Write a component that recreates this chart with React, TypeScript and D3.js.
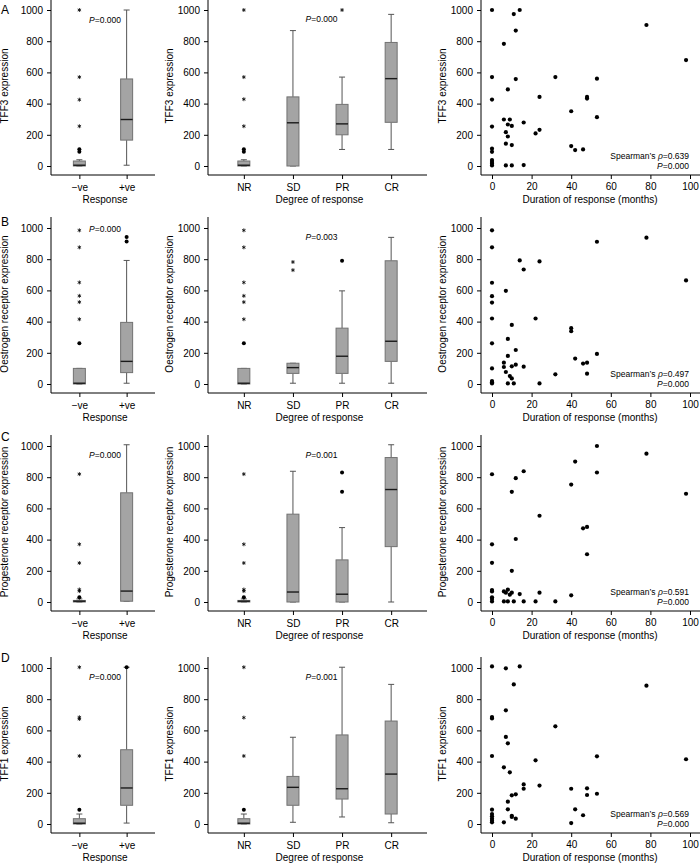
import React, { useRef, useEffect } from 'react';
import * as d3 from 'd3';

const responseCats = ['−ve', '+ve'];
const degreeCats = ['NR', 'SD', 'PR', 'CR'];
const yTicks = [0, 200, 400, 600, 800, 1000];
const monthTicks = [0, 20, 40, 60, 80, 100];

// box stats: whisker lo, q1, median, q3, whisker hi, outliers (dots) and extremes (stars)
const tff3ByResponse = [
  { lo: 0, q1: 0, med: 5, q3: 32, hi: 40, dots: [92, 108], stars: [1000, 570, 425, 255] },
  { lo: 5, q1: 166, med: 298, q3: 558, hi: 1000, dots: [], stars: [] },
];
const tff3ByDegree = [
  { lo: 0, q1: 0, med: 5, q3: 32, hi: 40, dots: [92, 108], stars: [1000, 570, 428, 255] },
  { lo: 0, q1: 0, med: 277, q3: 443, hi: 868, dots: [], stars: [] },
  { lo: 106, q1: 200, med: 270, q3: 395, hi: 570, dots: [], stars: [1000] },
  { lo: 106, q1: 280, med: 560, q3: 792, hi: 972, dots: [], stars: [] },
];
const erByResponse = [
  { lo: 0, q1: 0, med: 5, q3: 100, hi: 100, dots: [262], stars: [985, 876, 651, 565, 525, 415] },
  { lo: 5, q1: 73, med: 145, q3: 395, hi: 792, dots: [942, 914], stars: [] },
];
const erByDegree = [
  { lo: 0, q1: 0, med: 5, q3: 100, hi: 100, dots: [262], stars: [985, 876, 651, 565, 525, 415] },
  { lo: 5, q1: 68, med: 105, q3: 133, hi: 133, dots: [], stars: [782, 730] },
  { lo: 5, q1: 68, med: 178, q3: 358, hi: 597, dots: [790], stars: [] },
  { lo: 5, q1: 145, med: 274, q3: 790, hi: 940, dots: [], stars: [] },
];
const prByResponse = [
  { lo: 0, q1: 0, med: 5, q3: 10, hi: 20, dots: [30], stars: [820, 370, 250, 80, 70] },
  { lo: 5, q1: 5, med: 70, q3: 700, hi: 1008, dots: [], stars: [] },
];
const prByDegree = [
  { lo: 0, q1: 0, med: 5, q3: 10, hi: 20, dots: [30], stars: [820, 370, 250, 80, 70] },
  { lo: 0, q1: 0, med: 64, q3: 563, hi: 838, dots: [], stars: [] },
  { lo: 0, q1: 0, med: 50, q3: 270, hi: 477, dots: [830, 706], stars: [] },
  { lo: 0, q1: 355, med: 721, q3: 926, hi: 1008, dots: [], stars: [] },
];
const tff1ByResponse = [
  { lo: 0, q1: 0, med: 5, q3: 34, hi: 64, dots: [92], stars: [1005, 684, 673, 436] },
  { lo: 6, q1: 120, med: 231, q3: 476, hi: 1005, dots: [1005], stars: [] },
];
const tff1ByDegree = [
  { lo: 0, q1: 0, med: 5, q3: 34, hi: 64, dots: [92], stars: [1005, 682, 436] },
  { lo: 11, q1: 120, med: 235, q3: 305, hi: 556, dots: [], stars: [] },
  { lo: 45, q1: 160, med: 226, q3: 571, hi: 1005, dots: [], stars: [] },
  { lo: 8, q1: 64, med: 320, q3: 660, hi: 895, dots: [], stars: [] },
];

// [months, expression]
const tff3Scatter = [
  [0, 1000], [11, 974], [14, 1000], [12, 868], [6, 783], [0, 570], [12, 557], [32, 570], [8, 491],
  [0, 426], [24, 443], [48, 443], [48, 432], [53, 560], [78, 904], [98, 679], [40, 351], [53, 313],
  [0, 253], [6, 298], [9, 298], [8, 266], [10, 257], [16, 279], [7, 217], [8, 189], [22, 209],
  [24, 232], [7, 143], [10, 134], [40, 128], [42, 102], [46, 106], [0, 111], [0, 91], [0, 38],
  [0, 26], [0, 15], [0, 4], [7, 4], [10, 4], [16, 6],
];
const erScatter = [
  [0, 985], [0, 876], [53, 912], [78, 938], [14, 792], [24, 786], [16, 734], [98, 664], [0, 649],
  [7, 597], [0, 563], [0, 522], [0, 420], [22, 420], [10, 379], [40, 358], [40, 338], [0, 261],
  [8, 289], [12, 218], [8, 180], [42, 163], [53, 193], [46, 131], [48, 137], [48, 66], [32, 62],
  [6, 137], [6, 109], [10, 113], [12, 124], [16, 111], [0, 100], [7, 77], [9, 51], [10, 36],
  [0, 19], [0, 11], [0, 4], [8, 4], [11, 4], [24, 4],
];
const prScatter = [
  [53, 1000], [78, 951], [42, 900], [0, 819], [16, 838], [12, 794], [53, 830], [40, 753], [10, 706],
  [98, 694], [24, 553], [46, 472], [48, 481], [12, 404], [0, 370], [48, 306], [0, 251], [10, 200],
  [0, 77], [0, 68], [0, 30], [0, 19], [0, 4], [6, 68], [7, 60], [8, 79], [9, 47], [10, 60],
  [14, 51], [24, 60], [40, 43], [6, 4], [8, 4], [11, 4], [16, 4], [22, 4], [32, 4],
];
const tff1Scatter = [
  [0, 1010], [7, 998], [14, 1010], [11, 895], [78, 887], [7, 729], [0, 686], [0, 677], [32, 626],
  [7, 558], [8, 517], [0, 436], [53, 434], [98, 415], [22, 408], [6, 363], [9, 331], [16, 254],
  [16, 226], [24, 246], [40, 226], [48, 229], [48, 186], [53, 194], [10, 184], [12, 190], [8, 143],
  [8, 94], [42, 94], [46, 56], [10, 53], [10, 45], [12, 34], [6, 11], [40, 6], [0, 92], [0, 64],
  [0, 49], [0, 34], [0, 21], [0, 11],
];

const panels = [
  { letter: 'A', title: 'TFF3 expression', byResponse: tff3ByResponse, byDegree: tff3ByDegree, scatter: tff3Scatter, pResponse: '0.000', pDegree: '0.000', rho: '0.639', pRho: '0.000', pResponseAt: 936, pDegreeAt: 940 },
  { letter: 'B', title: 'Oestrogen receptor expression', byResponse: erByResponse, byDegree: erByDegree, scatter: erScatter, pResponse: '0.000', pDegree: '0.003', rho: '0.497', pRho: '0.000', pResponseAt: 994, pDegreeAt: 944 },
  { letter: 'C', title: 'Progesterone receptor expression', byResponse: prByResponse, byDegree: prByDegree, scatter: prScatter, pResponse: '0.000', pDegree: '0.001', rho: '0.591', pRho: '0.000', pResponseAt: 944, pDegreeAt: 944 },
  { letter: 'D', title: 'TFF1 expression', byResponse: tff1ByResponse, byDegree: tff1ByDegree, scatter: tff1Scatter, pResponse: '0.000', pDegree: '0.001', rho: '0.569', pRho: '0.000', pResponseAt: 942, pDegreeAt: 942 },
];

const rowTops = [10, 228, 446, 668];
const letterYs = [14, 226, 441, 662];
const font = "'Liberation Sans', Arial, Helvetica, sans-serif";

// little asterisk drawn as a path (extreme values)
const starPath = (r) => {
  let d = '';
  for (let k = 0; k < 3; k++) {
    const a = (Math.PI / 3) * k + Math.PI / 2;
    const dx = Math.cos(a) * r;
    const dy = Math.sin(a) * r;
    d += `M${-dx},${-dy}L${dx},${dy}`;
  }
  return d;
};

const drawBoxes = (g, x, cats, stats, y) => {
  stats.forEach((s, j) => {
    const cx = x(cats[j]);
    const w = 12;
    const cap = 3;
    const wk = '#555';
    g.append('line').attr('x1', cx).attr('x2', cx).attr('y1', y(s.q3)).attr('y2', y(s.hi)).attr('stroke', wk);
    g.append('line').attr('x1', cx - cap).attr('x2', cx + cap).attr('y1', y(s.hi)).attr('y2', y(s.hi)).attr('stroke', wk);
    g.append('line').attr('x1', cx).attr('x2', cx).attr('y1', y(s.q1)).attr('y2', y(s.lo)).attr('stroke', wk);
    g.append('line').attr('x1', cx - cap).attr('x2', cx + cap).attr('y1', y(s.lo)).attr('y2', y(s.lo)).attr('stroke', wk);
    g.append('rect')
      .attr('x', cx - w / 2).attr('y', y(s.q3))
      .attr('width', w).attr('height', Math.max(1, y(s.q1) - y(s.q3)))
      .attr('fill', '#a4a4a4').attr('stroke', '#727272');
    g.append('line').attr('x1', cx - w / 2).attr('x2', cx + w / 2).attr('y1', y(s.med)).attr('y2', y(s.med))
      .attr('stroke', '#1a1a1a').attr('stroke-width', 1.4);
    s.dots.forEach(v => {
      g.append('circle').attr('cx', cx).attr('cy', y(v)).attr('r', 2).attr('fill', '#000');
    });
    s.stars.forEach(v => {
      g.append('path').attr('transform', `translate(${cx},${y(v)})`).attr('d', starPath(2))
        .attr('stroke', '#000').attr('stroke-width', 0.8).attr('fill', 'none');
    });
  });
};

const pLabel = (g, x, y, value, size) => {
  const t = g.append('text').attr('x', x).attr('y', y).attr('dy', '0.35em').attr('font-size', size);
  t.append('tspan').attr('font-style', 'italic').text('P');
  t.append('tspan').text('=' + value);
  return t;
};

const App = () => {
  const svgRef = useRef<SVGSVGElement>(null);

  useEffect(() => {
    document.body.style.margin = '0';
    const svg = d3.select(svgRef.current);
    svg.selectAll('*').remove();

    const xResp = d3.scalePoint().domain(responseCats).range([51, 155]).padding(0.6);
    const xDeg = d3.scalePoint().domain(degreeCats).range([208, 427]).padding(0.73);
    const xMonths = d3.scaleLinear().domain([0, 100]).range([492, 690]);

    const frames = [
      { x0: 51, x1: 155, titleX: 7.5 },
      { x0: 208, x1: 427, titleX: 173 },
      { x0: 481, x1: 700, titleX: 446 },
    ];

    panels.forEach((p, i) => {
      const top = rowTops[i];
      const zero = top + 156;
      const base = zero + 9;
      const y = d3.scaleLinear().domain([0, 1000]).range([zero, top]);
      const g = svg.append('g');

      g.append('text').attr('x', 1).attr('y', letterYs[i]).attr('font-size', 12).text(p.letter);

      frames.forEach(f => {
        const ax = g.append('g').attr('transform', `translate(${f.x0},0)`)
          .call(d3.axisLeft(y).tickValues(yTicks).tickFormat(d3.format('d')).tickSize(4).tickPadding(4));
        ax.select('.domain').remove();
        ax.selectAll('text').attr('font-size', 10).attr('font-family', font).attr('fill', '#000');
        g.append('line').attr('x1', f.x0).attr('x2', f.x0).attr('y1', top - 11).attr('y2', base).attr('stroke', '#000');
        g.append('line').attr('x1', f.x0).attr('x2', f.x1).attr('y1', base).attr('y2', base).attr('stroke', '#000');
        g.append('text')
          .attr('transform', `translate(${f.titleX},${(top + zero) / 2 - 2}) rotate(-90)`)
          .attr('text-anchor', 'middle').attr('font-size', 10).text(p.title);
      });

      // x axes
      [[xResp, 'Response'], [xDeg, 'Degree of response']].forEach(([sc, label]) => {
        const ax = g.append('g').attr('transform', `translate(0,${base})`)
          .call(d3.axisBottom(sc).tickSize(4).tickPadding(5));
        ax.select('.domain').remove();
        ax.selectAll('text').attr('font-size', 10).attr('font-family', font).attr('fill', '#000');
        const r = sc.range();
        g.append('text').attr('x', (r[0] + r[1]) / 2 + 2).attr('y', zero + 37)
          .attr('text-anchor', 'middle').attr('font-size', 10).text(label);
      });
      const axm = g.append('g').attr('transform', `translate(0,${base})`)
        .call(d3.axisBottom(xMonths).tickValues(monthTicks).tickSize(4).tickPadding(4));
      axm.select('.domain').remove();
      axm.selectAll('text').attr('font-size', 10).attr('font-family', font).attr('fill', '#000');
      g.append('text').attr('x', 590).attr('y', zero + 37).attr('text-anchor', 'middle')
        .attr('font-size', 10).text('Duration of response (months)');

      drawBoxes(g, xResp, responseCats, p.byResponse, y);
      drawBoxes(g, xDeg, degreeCats, p.byDegree, y);

      pLabel(g, (xResp('−ve') + xResp('+ve')) / 2 + 2, y(p.pResponseAt), p.pResponse, 8.5).attr('text-anchor', 'middle');
      pLabel(g, (xDeg('SD') + xDeg('PR')) / 2 + 4, y(p.pDegreeAt), p.pDegree, 8.5).attr('text-anchor', 'middle');

      g.selectAll('.pt').data(p.scatter).enter().append('circle')
        .attr('cx', d => xMonths(d[0])).attr('cy', d => y(d[1])).attr('r', 2.1).attr('fill', '#000');

      const rt = g.append('text').attr('x', 689).attr('y', zero - 7).attr('text-anchor', 'end').attr('font-size', 8.5);
      rt.append('tspan').text('Spearman\u2019s ');
      rt.append('tspan').attr('font-style', 'italic').text('ρ');
      rt.append('tspan').text('=' + p.rho);
      const pr = g.append('text').attr('x', 689).attr('y', zero + 3).attr('text-anchor', 'end').attr('font-size', 8.5);
      pr.append('tspan').attr('font-style', 'italic').text('P');
      pr.append('tspan').text('=' + p.pRho);
    });
  }, []);

  return (
    <svg ref={svgRef} width={700} height={864} style={{ display: 'block' }} fontFamily={font} />
  );
};

export default App;
